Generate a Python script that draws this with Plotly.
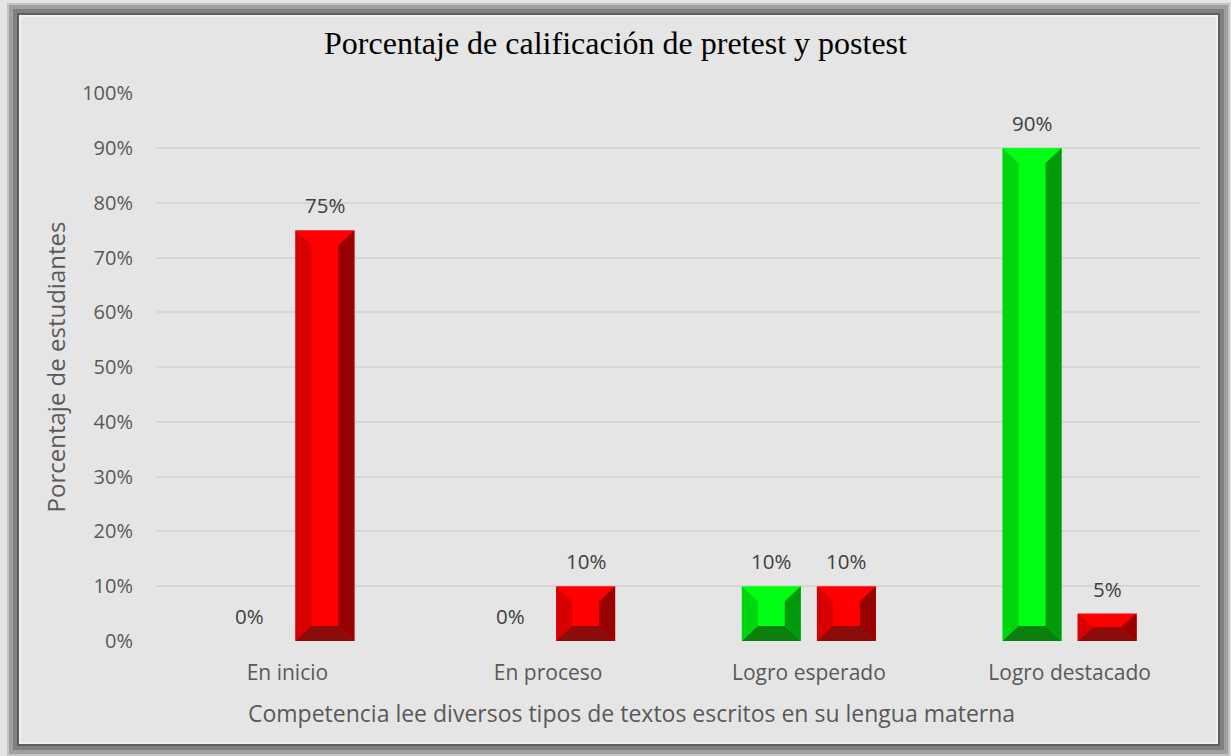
import plotly.graph_objects as go

categories = ["En inicio", "En proceso", "Logro esperado", "Logro destacado"]
pretest = [0.0, 0.0, 0.10, 0.90]
postest = [0.75, 0.10, 0.10, 0.05]
y_ticks = [0, 0.1, 0.2, 0.3, 0.4, 0.5, 0.6, 0.7, 0.8, 0.9, 1.0]
y_ticktext = ["0%", "10%", "20%", "30%", "40%", "50%", "60%", "70%", "80%", "90%", "100%"]

W, H = 1231, 756
L, R, T, B = 157, 31, 93, 115
PW, PH = W - L - R, H - T - B

BAR_W = 0.226
HALF_SEP = 0.144
x_idx = list(range(len(categories)))

green = dict(face="#00ff12", left="#00d60f", right="#009a0b", bottom="#0c800c")
red = dict(face="#ff0000", left="#d80000", right="#990000", bottom="#8c0b0b")

fig = go.Figure()
fig.add_trace(go.Bar(name="Pretest", x=x_idx, y=pretest, width=BAR_W,
                     offset=-HALF_SEP - BAR_W / 2,
                     marker=dict(color=green["face"], line=dict(width=0))))
fig.add_trace(go.Bar(name="Postest", x=x_idx, y=postest, width=BAR_W,
                     offset=HALF_SEP - BAR_W / 2,
                     marker=dict(color=red["face"], line=dict(width=0))))

# bevel faces derived from data values
px_per_x = PW / 4.0
px_per_y = PH / 1.0
bx = 16 / px_per_x
by_full = 15 / px_per_y


def bevel(cx, v, col):
    if v <= 0:
        return
    x0, x1 = cx - BAR_W / 2, cx + BAR_W / 2
    dy = min(by_full, v / 2)
    def path(pts):
        return "M " + " L ".join(f"{a},{b}" for a, b in pts) + " Z"
    faces = [
        ([(x0, 0), (x0, v), (x0 + bx, v - dy), (x0 + bx, dy)], col["left"]),
        ([(x1, 0), (x1, v), (x1 - bx, v - dy), (x1 - bx, dy)], col["right"]),
        ([(x0, 0), (x1, 0), (x1 - bx, dy), (x0 + bx, dy)], col["bottom"]),
    ]
    for pts, c in faces:
        fig.add_shape(type="path", path=path(pts), xref="x", yref="y",
                      fillcolor=c, line=dict(width=0), layer="above")


for i, (p, q) in enumerate(zip(pretest, postest)):
    bevel(i - HALF_SEP, p, green)
    bevel(i + HALF_SEP, q, red)
    for cx, v in ((i - HALF_SEP, p), (i + HALF_SEP, q)):
        fig.add_annotation(x=cx, y=v, xref="x", yref="y", text=f"{round(v*100)}%",
                           showarrow=False, yanchor="middle", yshift=25,
                           font=dict(family="Open Sans", size=20.5, color="#404040"))

# frame (pixel -> paper conversion)
def px(xp):
    return (xp - L) / PW

def py(yp):
    return (H - B - yp) / PH

for (a, b, c, d, col, lw) in [
    (8, 4, 1229, 755, "#c4c4c4", 2),
    (11, 7, 1226, 752, "#a0a0a0", 4),
    (15, 11, 1222, 748, "#808080", 4),
    (18, 14, 1219, 745, "#5e5e5e", 2),
    (20, 16, 1217, 743, "#f4f4f4", 1.5),
]:
    fig.add_shape(type="rect", xref="paper", yref="paper",
                  x0=px(a), x1=px(c), y0=py(d), y1=py(b),
                  line=dict(color=col, width=lw), fillcolor="rgba(0,0,0,0)", layer="below")

# x axis title (centred on the chart box, as in the reference)
fig.add_annotation(text="Competencia lee diversos tipos de textos escritos en su lengua materna",
                   xref="paper", yref="paper", x=px(631), y=py(713),
                   xanchor="center", yanchor="middle", showarrow=False,
                   font=dict(family="Open Sans", size=23, color="#595959"))

fig.update_layout(
    width=W, height=H,
    margin=dict(l=L, r=R, t=T, b=B),
    paper_bgcolor="#e5e5e5", plot_bgcolor="#e5e5e5",
    showlegend=False, barmode="overlay",
    title=dict(text="Porcentaje de calificación de pretest y postest",
               x=0.5, xanchor="center", xref="container", y=1 - 43 / H, yanchor="middle",
               font=dict(family="Liberation Serif", size=32, color="#000000")),
    font=dict(family="Open Sans", color="#595959"),
)
fig.update_xaxes(range=[-0.5, 3.5], tickvals=x_idx, ticktext=categories,
                 showgrid=False, zeroline=False, showline=False, ticks="",
                 ticklabelstandoff=17,
                 tickfont=dict(family="Open Sans", size=21, color="#595959"))
fig.update_yaxes(range=[0, 1.0005], tickvals=y_ticks, ticktext=y_ticktext,
                 showgrid=True, gridcolor="#d6d6d6", gridwidth=2, zeroline=False,
                 showline=False, ticks="", ticklabelstandoff=23,
                 tickfont=dict(family="Open Sans", size=20, color="#595959"),
                 title=dict(text="Porcentaje de estudiantes",
                            font=dict(family="Open Sans", size=24, color="#595959"), standoff=9))

fig.write_html("out.html", config={"displayModeBar": False},
               post_script="document.body.style.margin='0px';document.body.style.overflow='hidden';")
